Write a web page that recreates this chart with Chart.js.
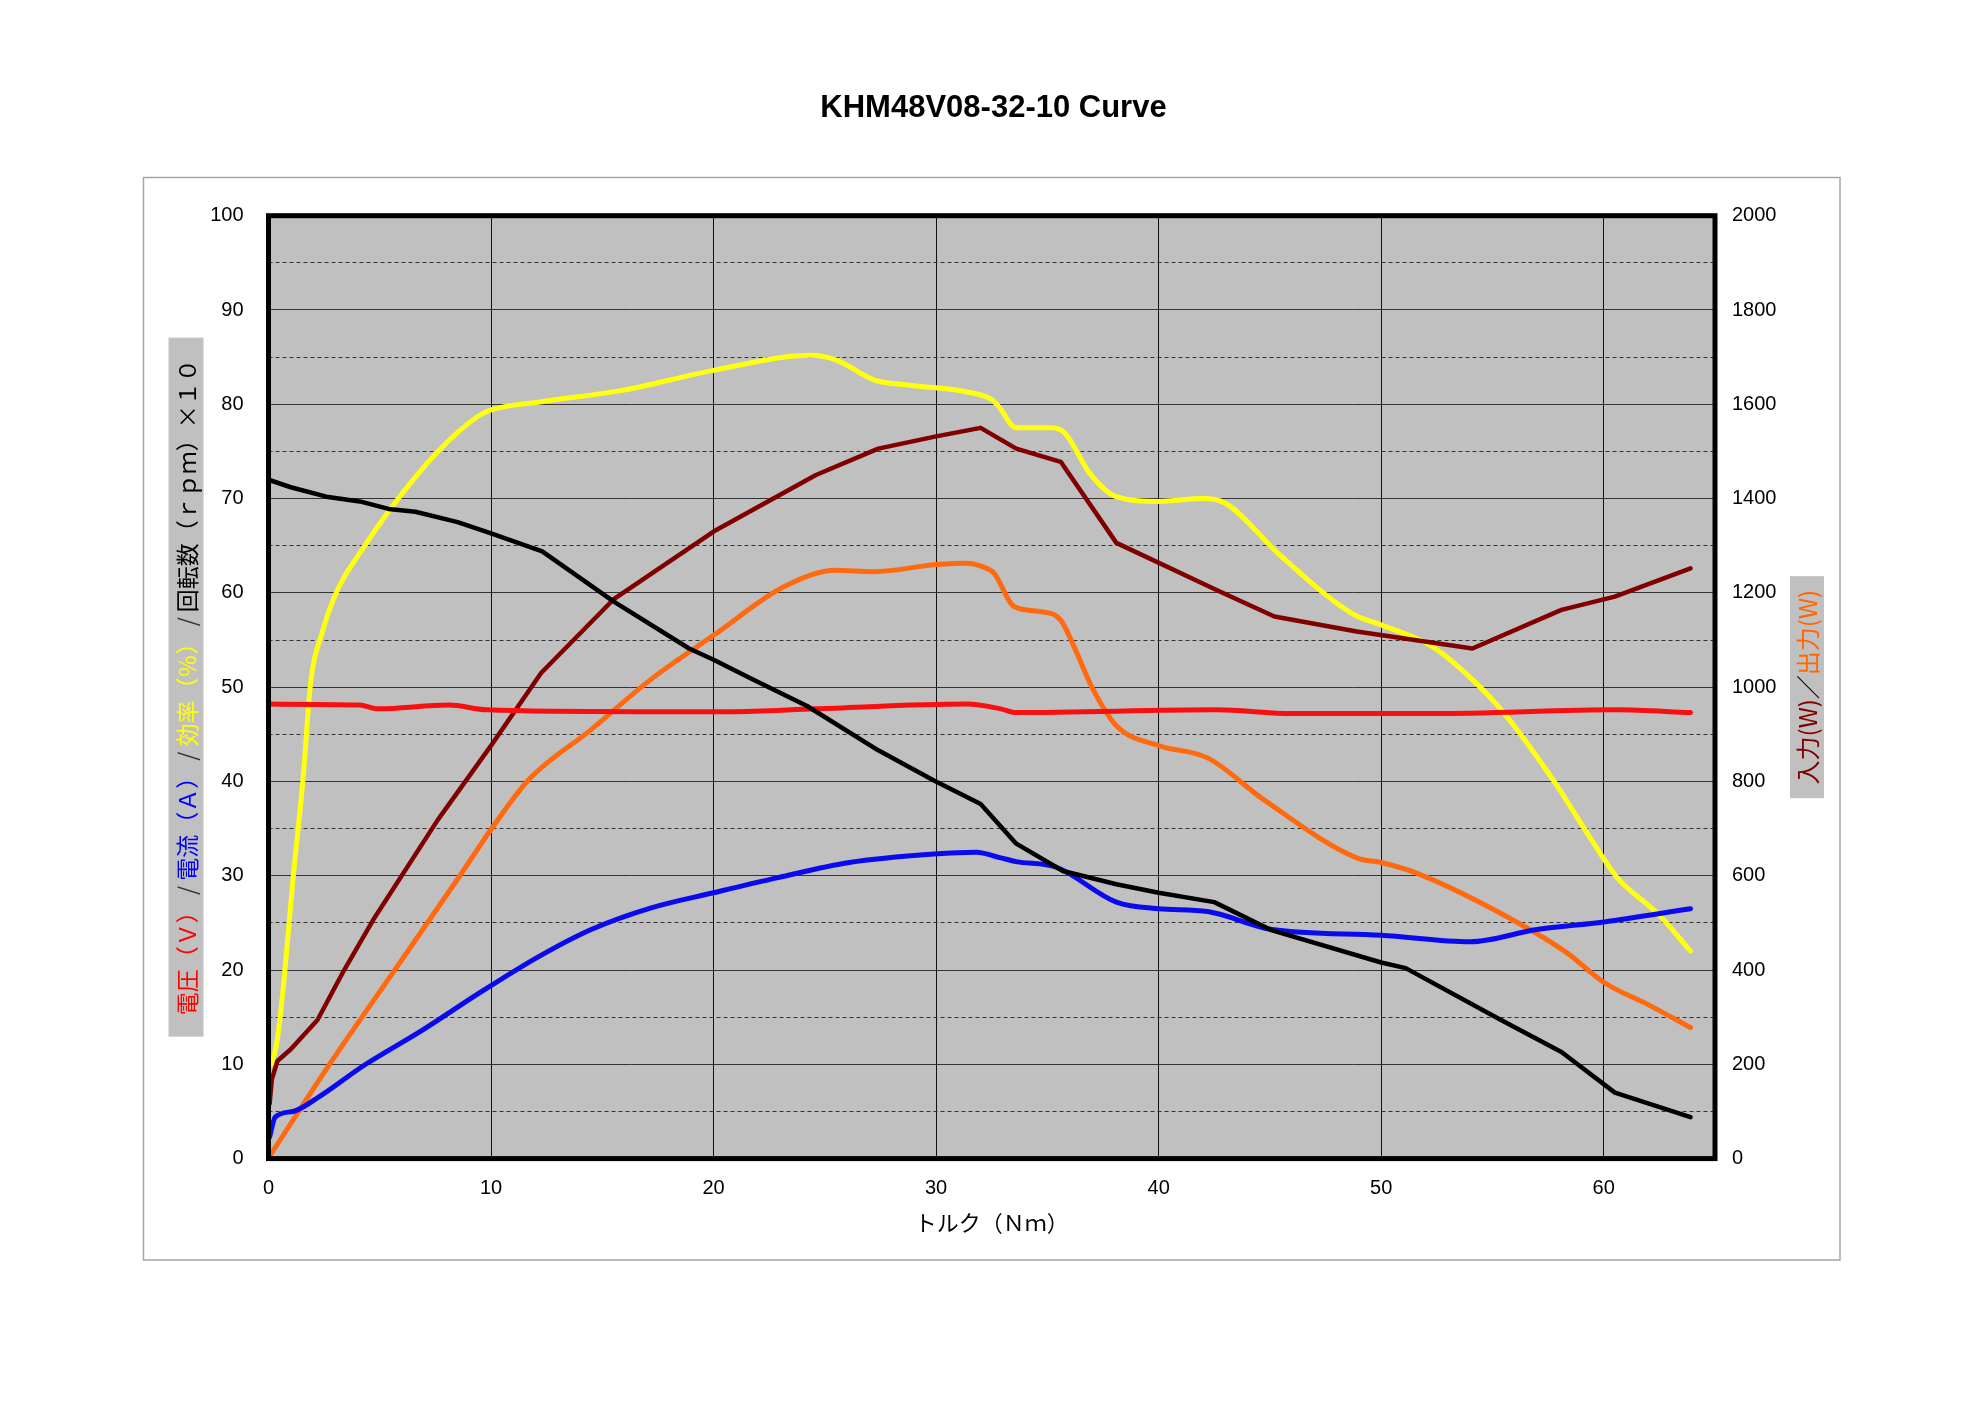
<!DOCTYPE html>
<html>
<head>
<meta charset="utf-8">
<script src="https://cdn.jsdelivr.net/npm/chart.js@4.4.0/dist/chart.umd.min.js"></script>
<style>
body { margin: 0; background: #fff; }
</style>
</head>
<body>
<canvas id="myChart" width="1987" height="1405"></canvas>
<script>
// torque (Nm) / value pairs
var rpmT = [0, 1, 2.6, 4.1, 5.4, 6.6, 8.5, 10, 12.3, 15.5, 18.9, 20, 21.7, 24.2, 27.4, 29.9, 32, 33.6, 35.7, 38.1, 40, 42.5, 45.1, 50, 51.1, 55.3, 58.1, 60.5, 63.9];
var rpmV = [72.0, 71.2, 70.2, 69.7, 68.9, 68.6, 67.5, 66.3, 64.4, 59.1, 54.1, 52.9, 50.9, 48.0, 43.3, 40.1, 37.6, 33.4, 30.5, 29.1, 28.2, 27.2, 24.2, 20.8, 20.2, 14.8, 11.3, 7.0, 4.4];

var voltT = [0, 4.1, 4.9, 8.1, 9.8, 16.6, 20.8, 24.6, 31.4, 32.9, 33.6, 42.6, 46, 52.3, 60.6, 63.9];
var voltV = [48.2, 48.1, 47.7, 48.1, 47.6, 47.4, 47.4, 47.7, 48.2, 47.7, 47.3, 47.6, 47.2, 47.2, 47.6, 47.3];

var ampT = [0.05, 0.3, 1.1, 2.3, 4.3, 6.9, 9.5, 12.2, 14.5, 17.2, 20, 22.9, 26.1, 29.9, 31.8, 32.9, 33.6, 35.4, 38.1, 40, 42.2, 45.1, 50, 54, 57, 60, 63.9];
var ampV = [2.3, 4.4, 5.0, 6.6, 9.9, 13.6, 17.6, 21.5, 24.3, 26.6, 28.2, 29.8, 31.4, 32.3, 32.5, 31.9, 31.5, 30.9, 27.2, 26.5, 26.2, 24.3, 23.7, 23.0, 24.3, 25.1, 26.5];

var effT = [0.15, 0.4, 0.7, 1.1, 1.55, 1.9, 2.4, 3.1, 4.3, 5.8, 7.7, 9.4, 10, 12.35, 15.95, 20, 24.4, 25.5, 27.2, 28.9, 31.4, 32.5, 32.8, 33.6, 35.2, 35.8, 36.9, 38.1, 40, 42, 43, 45.5, 48.7, 50, 52.3, 54.1, 55.5, 57.8, 59.1, 60, 60.6, 62.5, 63.9];
var effV = [10, 12.7, 19, 29.6, 40.2, 50.6, 55.7, 60.3, 64.9, 69.9, 75.2, 78.7, 79.4, 80.3, 81.5, 83.6, 85.2, 84.7, 82.6, 82.0, 81.3, 80.5, 79.8, 77.5, 77.5, 76.9, 72.7, 70.2, 69.7, 70.0, 69.5, 63.9, 57.8, 56.6, 54.3, 50.8, 47.3, 39.9, 35.1, 31.8, 29.8, 25.8, 22.0];

var inT = [0.05, 0.15, 0.4, 1, 2.2, 3.4, 4.7, 7.6, 10, 12.25, 15.5, 20, 24.6, 27.4, 30, 32, 33.6, 35.6, 38.1, 42.6, 45.2, 48.9, 54.1, 58.1, 60.5, 63.9];
var inV = [116, 168, 207, 232, 294, 400, 506, 718, 876, 1030, 1186, 1330, 1450, 1506, 1532, 1550, 1506, 1478, 1306, 1206, 1150, 1118, 1082, 1164, 1192, 1252];

var outT = [0.05, 2.6, 5.6, 8.6, 10, 11.7, 14.5, 17.2, 20, 23.2, 25.5, 27.2, 30, 31.4, 32.05, 32.6, 33.5, 34.75, 35.6, 36.2, 37.0, 38.1, 40, 42.2, 44.7, 48.9, 50, 51.5, 55.3, 58.3, 60, 62.1, 63.9];
var outV = [5, 190, 395, 600, 698, 804, 910, 1017, 1110, 1214, 1248, 1245, 1260, 1263, 1256, 1242, 1171, 1160, 1142, 1086, 1000, 918, 876, 850, 762, 638, 628, 607, 522, 438, 374, 324, 278];

var xTicks = [0, 10, 20, 30, 40, 50, 60];

function pts(t, v) {
    return t.map(function (x, i) { return { x: x, y: v[i] }; });
}

var chartStyle = {
    id: 'chartStyle',
    beforeDraw: function (chart) {
        var ctx = chart.ctx, a = chart.chartArea;
        ctx.save();
        ctx.fillStyle = '#fff';
        ctx.fillRect(0, 0, chart.width, chart.height);
        ctx.strokeStyle = '#a6a6a6';
        ctx.lineWidth = 1.5;
        ctx.strokeRect(143.5, 177.5, 1696.5, 1082.5);
        ctx.fillStyle = '#c0c0c0';
        ctx.fillRect(a.left, a.top, a.right - a.left, a.bottom - a.top);
        ctx.restore();
    },
    afterDraw: function (chart) {
        var ctx = chart.ctx, a = chart.chartArea;
        ctx.save();
        ctx.strokeStyle = '#000';
        ctx.lineWidth = 5;
        ctx.strokeRect(a.left, a.top, a.right - a.left, a.bottom - a.top);
        ctx.restore();
        var cy = (a.top + a.bottom) / 2;
        sideLabel(ctx, a.left - 82.5, cy, 35, 699, '23px "Noto Sans CJK JP"', [
            ['電圧（Ｖ）', '#ff0000'], [' / ', '#333'], ['電流（Ａ）', '#0000ff'], [' / ', '#333'],
            ['効率（％）', '#ffff00'], [' / ', '#333'], ['回転数（ｒｐｍ）×１０', '#000']
        ]);
        sideLabel(ctx, a.right + 92, cy, 34, 222, '24px "Noto Sans CJK JP"', [
            ['入力(W)', '#800000'], ['／', '#000'], ['出力(W)', '#ff6600']
        ]);
    }
};

function sideLabel(ctx, cx, cy, w, h, font, parts) {
    ctx.save();
    ctx.translate(cx, cy);
    ctx.rotate(-Math.PI / 2);
    ctx.fillStyle = '#c0c0c0';
    ctx.fillRect(-h / 2, -w / 2, h, w);
    ctx.font = font;
    ctx.textBaseline = 'middle';
    ctx.textAlign = 'left';
    var total = 0;
    parts.forEach(function (p) { total += ctx.measureText(p[0]).width; });
    var x = -total / 2;
    parts.forEach(function (p) {
        ctx.fillStyle = p[1];
        ctx.fillText(p[0], x, 1);
        x += ctx.measureText(p[0]).width;
    });
    ctx.restore();
}

var tickFont = { family: '"Liberation Sans", Arial, sans-serif', size: 20 };

var ctx = document.getElementById('myChart').getContext('2d');
var myChart = new Chart(ctx, {
    type: 'line',
    data: {
        datasets: [
            { label: '回転数', data: pts(rpmT, rpmV), yAxisID: 'y', borderColor: '#000000', tension: 0, borderWidth: 4.5 },
            { label: '電流', data: pts(ampT, ampV), yAxisID: 'y', borderColor: '#0a0aef', cubicInterpolationMode: 'monotone' },
            { label: '電圧', data: pts(voltT, voltV), yAxisID: 'y', borderColor: '#f81010', cubicInterpolationMode: 'monotone' },
            { label: '入力', data: pts(inT, inV), yAxisID: 'y1', borderColor: '#800000', tension: 0, borderWidth: 4.5 },
            { label: '出力', data: pts(outT, outV), yAxisID: 'y1', borderColor: '#ff6a10', cubicInterpolationMode: 'monotone' },
            { label: '効率', data: pts(effT, effV), yAxisID: 'y', borderColor: '#ffff10', cubicInterpolationMode: 'monotone' }
        ]
    },
    options: {
        responsive: false,
        animation: false,
        datasets: {
            line: { borderWidth: 5, pointRadius: 0, fill: false, borderJoinStyle: 'round', borderCapStyle: 'round' }
        },
        layout: { padding: { left: 0, right: 0, top: 0, bottom: 168.8 } },
        plugins: {
            legend: { display: false },
            tooltip: { enabled: false },
            title: {
                display: true,
                text: 'KHM48V08-32-10 Curve',
                color: '#000',
                font: { family: '"Liberation Sans", Arial, sans-serif', size: 31, weight: 'bold' },
                lineHeight: 1.2,
                padding: { top: 89.4, bottom: 89.1 }
            }
        },
        scales: {
            x: {
                type: 'linear',
                min: 0,
                max: 65,
                afterBuildTicks: function (s) { s.ticks = xTicks.map(function (v) { return { value: v }; }); },
                afterFit: function (s) { s.height = 77.6; },
                ticks: { color: '#000', font: tickFont, padding: 18, maxRotation: 0 },
                grid: { color: '#111', lineWidth: 1, drawTicks: false },
                border: { display: false },
                title: {
                    display: true,
                    text: 'トルク（Ｎｍ）',
                    color: '#000',
                    font: { family: '"Noto Sans CJK JP"', size: 22 },
                    padding: { top: 0, bottom: 0 }
                }
            },
            y: {
                position: 'left',
                min: 0,
                max: 100,
                afterFit: function (s) { s.width = 268.5; },
                ticks: { stepSize: 10, color: '#000', font: tickFont, padding: 25 },
                grid: { color: '#333', lineWidth: 1, drawTicks: false },
                border: { display: false }
            },
            y1: {
                position: 'right',
                min: 0,
                max: 2000,
                afterFit: function (s) { s.width = 272; },
                ticks: {
                    stepSize: 100, color: '#000', font: tickFont, padding: 17,
                    callback: function (v) { return v % 200 === 0 ? String(v) : ''; }
                },
                grid: {
                    color: function (c) { return c.tick && c.tick.value % 200 === 0 ? 'rgba(0,0,0,0)' : '#333'; },
                    lineWidth: 1,
                    drawTicks: false
                },
                border: { display: false, dash: [4, 3] }
            }
        }
    },
    plugins: [chartStyle]
});
</script>
</body>
</html>
